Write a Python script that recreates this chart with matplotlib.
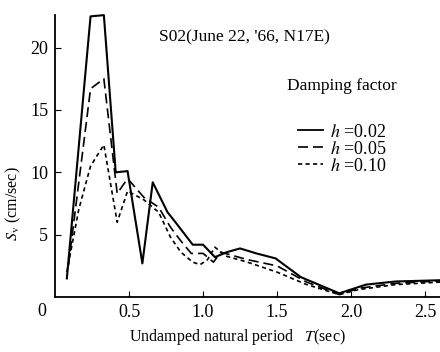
import matplotlib
matplotlib.use("Agg")
import matplotlib.pyplot as plt
from matplotlib.lines import Line2D

plt.rcParams['font.family'] = ['Liberation Serif', 'DejaVu Serif']
plt.rcParams['mathtext.fontset'] = 'stix'

# Data
T_002 = [0.08, 0.24, 0.33, 0.41, 0.49, 0.59, 0.66, 0.71, 0.76, 0.82, 0.93, 1.00,
         1.08, 1.16, 1.25, 1.36, 1.49, 1.66, 1.92, 2.10, 2.30, 2.60]
S_002 = [1.5, 22.5, 22.6, 10.0, 10.1, 2.7, 9.2, 8.0, 6.8, 5.9, 4.2, 4.2,
         3.2, 3.6, 3.9, 3.5, 3.1, 1.6, 0.3, 1.0, 1.25, 1.35]

T_005 = [0.09, 0.24, 0.33, 0.42, 0.49, 0.60, 0.70, 0.78, 0.85, 0.92, 1.00,
         1.07, 1.12, 1.30, 1.50, 1.70, 1.92, 2.05, 2.30, 2.60]
S_005 = [2.5, 16.7, 17.5, 8.3, 9.5, 8.0, 7.2, 5.6, 4.5, 3.5, 3.5,
         2.8, 3.6, 3.0, 2.5, 1.2, 0.2, 0.7, 1.1, 1.3]

T_010 = [0.08, 0.16, 0.24, 0.33, 0.42, 0.49, 0.60, 0.70, 0.78, 0.85, 0.93, 0.98,
         1.03, 1.08, 1.15, 1.30, 1.50, 1.70, 1.92, 2.05, 2.30, 2.60]
S_010 = [2.0, 7.0, 10.5, 12.2, 6.0, 8.5, 7.8, 6.8, 4.8, 3.6, 2.8, 2.6,
         3.0, 4.0, 3.3, 2.8, 2.0, 1.0, 0.2, 0.6, 1.0, 1.2]

x_ticks = [0.5, 1.0, 1.5, 2.0, 2.5]
x_ticklabels = ["0.5", "1.0", "1.5", "2.0", "2.5"]
y_ticks = [5, 10, 15, 20]
y_ticklabels = ["5", "10", "15", "20"]
labels = ["$h$ =0.02", "$h$ =0.05", "$h$ =0.10"]

fig = plt.figure(figsize=(4.4, 3.52), dpi=100)
ax = fig.add_axes([0.125, 0.156, 0.875, 0.801])

ls_solid = '-'
ls_long = (0, (6, 3))
ls_short = (0, (2.5, 2))

ax.plot(T_002, S_002, color='black', lw=1.5, ls=ls_solid, clip_on=False)
ax.plot(T_005, S_005, color='black', lw=1.2, ls=ls_long, clip_on=False)
ax.plot(T_010, S_010, color='black', lw=1.2, ls=ls_short, clip_on=False)

ax.set_xlim(0, 2.6)
ax.set_ylim(0, 22.6)
ax.spines['top'].set_visible(False)
ax.spines['right'].set_visible(False)
ax.spines['left'].set_linewidth(1.3)
ax.spines['bottom'].set_linewidth(1.3)
ax.set_xticks(x_ticks)
ax.set_xticklabels(x_ticklabels)
ax.set_yticks(y_ticks)
ax.set_yticklabels(y_ticklabels)
ax.tick_params(direction='in', length=4, labelsize=13, pad=5)
ax.text(-0.09, -0.45, "0", fontsize=13, ha='center', va='top', transform=ax.transData)

ax.set_xlabel("Undamped natural period   $T$(sec)", fontsize=11.5)
ax.xaxis.set_label_coords(0.473, -0.105)
ax.set_ylabel("$S_{\\rm v}$ (cm/sec)", fontsize=11.5)
ax.yaxis.set_label_coords(-0.083, 0.33)

ax.text(1.28, 20.8, "S02(June 22, '66, N17E)", fontsize=12.5, ha='center', va='center')

ax.text(0.745, 0.747, "Damping factor", fontsize=12.5, ha='center', va='center',
        transform=ax.transAxes)

handles = [Line2D([], [], color='black', lw=1.3, ls=ls_solid),
           Line2D([], [], color='black', lw=1.2, ls=ls_long),
           Line2D([], [], color='black', lw=1.2, ls=ls_short)]
leg = ax.legend(handles, labels, frameon=False,
                loc='upper left', bbox_to_anchor=(0.63, 0.615), borderpad=0,
                borderaxespad=0,
                handlelength=1.4, handletextpad=0.4, labelspacing=0.0,
                fontsize=13)

fig.savefig("out.png", dpi=100)
